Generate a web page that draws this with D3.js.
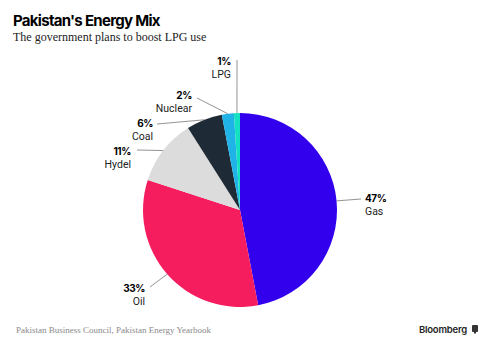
<!DOCTYPE html>
<html><head><meta charset="utf-8">
<script src="https://cdn.jsdelivr.net/npm/d3@7"></script>
<style>body{margin:0;background:#fff}svg{display:block}</style>
</head><body>
<svg id="c" width="488" height="348"></svg>
<script>
const categories = ["Gas","Oil","Hydel","Coal","Nuclear","LPG"];
const values = [47,33,11,6,2,1];
const valueLabels = ["47%","33%","11%","6%","2%","1%"];
const colors = ["#3300ee","#f61d5e","#dcdcdc","#1e2a35","#1fb3e8","#14e0c2"];

const svg = d3.select("#c");
svg.append("text").attr("x",13).attr("y",26).text("Pakistan's Energy Mix")
  .attr("font-family","Inter, 'Open Sans', sans-serif").attr("font-weight",700)
  .attr("font-size",15).attr("letter-spacing",-0.7).attr("fill","#000");
svg.append("text").attr("x",13).attr("y",41).text("The government plans to boost LPG use")
  .attr("font-family","'Liberation Serif', 'DejaVu Serif', serif").attr("font-size",12)
  .attr("fill","#222");

const cx = 240, cy = 210, r = 97;
const pie = d3.pie().sort(null).value(d=>d.v);
const data = pie(categories.map((c,i)=>({c, v:values[i], l:valueLabels[i], col:colors[i]})));
const arc = d3.arc().innerRadius(0).outerRadius(r);
const g = svg.append("g").attr("transform",`translate(${cx},${cy})`);
g.selectAll("path").data(data).join("path").attr("d",arc).attr("fill",d=>d.data.col);

const layout = {
  Gas:    {lx:365, ly:199, anchor:"start", from:[361,199]},
  Oil:    {lx:145, ly:289, anchor:"end",   from:[150,287]},
  Hydel:  {lx:131, ly:152, anchor:"end",   from:[137,150]},
  Coal:   {lx:153, ly:124, anchor:"end",   from:[157,124]},
  Nuclear:{lx:192, ly:96,  anchor:"end",   from:[197,98]},
  LPG:    {lx:231, ly:62,  anchor:"end",   from:[237,60]}
};
const lab = svg.append("g");
data.forEach(d=>{
  const L = layout[d.data.c];
  const a = (d.startAngle + d.endAngle)/2;
  const ex = cx + r*Math.sin(a), ey = cy - r*Math.cos(a);
  lab.append("line").attr("x1",L.from[0]).attr("y1",L.from[1]).attr("x2",ex).attr("y2",ey)
    .attr("stroke","#777").attr("stroke-width",0.8);
  lab.append("text").attr("x",L.lx).attr("y",L.ly+3).attr("text-anchor",L.anchor)
    .attr("font-family","Inter, 'Open Sans', sans-serif").attr("font-weight",700).attr("font-size",10)
    .attr("letter-spacing",-0.4).attr("fill","#000").text(d.data.l);
  lab.append("text").attr("x",L.lx).attr("y",L.ly+16).attr("text-anchor",L.anchor)
    .attr("font-family","Roboto, 'Open Sans', sans-serif").attr("font-size",10.5)
    .attr("fill","#222").text(d.data.c);
});

svg.append("text").attr("x",16).attr("y",333).text("Pakistan Business Council, Pakistan Energy Yearbook")
  .attr("font-family","'Liberation Serif', 'DejaVu Serif', serif").attr("font-size",9)
  .attr("fill","#8a8a8a");
svg.append("text").attr("x",467).attr("y",333).attr("text-anchor","end").text("Bloomberg")
  .attr("font-family","Inter, 'Open Sans', sans-serif").attr("font-weight",600).attr("font-size",9.5)
  .attr("letter-spacing",-0.2).attr("fill","#222");
svg.append("rect").attr("x",472).attr("y",325).attr("width",6).attr("height",7).attr("rx",1).attr("fill","#333");
svg.append("rect").attr("x",474).attr("y",332).attr("width",2).attr("height",1.5).attr("fill","#333");
</script>
</body></html>
